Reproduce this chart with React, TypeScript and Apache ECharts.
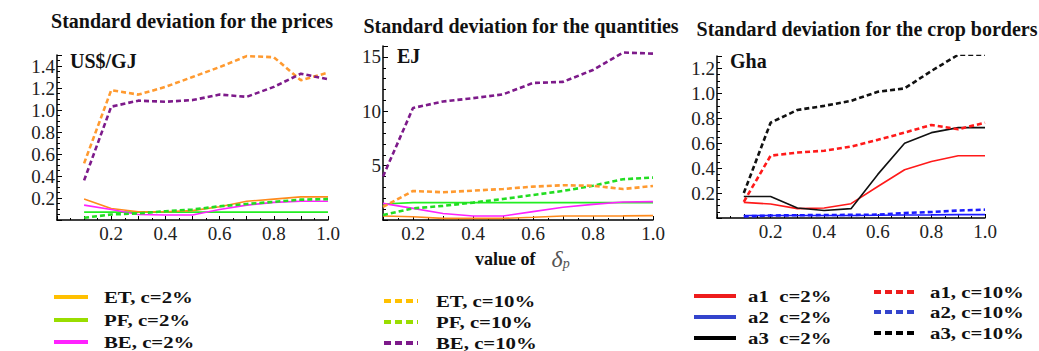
import React, { useEffect, useRef } from "react";
import * as echarts from "echarts";

const X = [0.1, 0.2, 0.3, 0.4, 0.5, 0.6, 0.7, 0.8, 0.9, 1.0];

// Panel 1: prices (US$/GJ)
const P_ET2 = [0.19, 0.105, 0.075, 0.075, 0.085, 0.12, 0.17, 0.19, 0.21, 0.21];
const P_PF2 = [0.072, 0.072, 0.072, 0.072, 0.072, 0.072, 0.072, 0.072, 0.072, 0.072];
const P_BE2 = [0.135, 0.095, 0.05, 0.045, 0.045, 0.095, 0.135, 0.16, 0.17, 0.17];
const P_ET10 = [0.515, 1.18, 1.14, 1.21, 1.3, 1.39, 1.49, 1.48, 1.27, 1.34];
const P_PF10 = [0.02, 0.05, 0.06, 0.08, 0.095, 0.125, 0.145, 0.165, 0.185, 0.19];
const P_BE10 = [0.36, 1.03, 1.085, 1.075, 1.09, 1.14, 1.12, 1.21, 1.33, 1.28];

// Panel 2: quantities (EJ)
const Q_ET2 = [0.37, 0.3, 0.15, 0.15, 0.15, 0.25, 0.37, 0.37, 0.38, 0.4];
const Q_PF2 = [1.47, 1.6, 1.6, 1.6, 1.6, 1.6, 1.6, 1.6, 1.6, 1.6];
const Q_BE2 = [1.53, 1.07, 0.6, 0.37, 0.37, 0.77, 1.17, 1.44, 1.65, 1.69];
const Q_ET10 = [1.2, 2.67, 2.55, 2.7, 2.85, 3.07, 3.2, 3.15, 2.85, 3.13];
const Q_PF10 = [0.46, 1.07, 1.3, 1.6, 1.93, 2.3, 2.67, 3.15, 3.75, 3.9];
const Q_BE10 = [4.0, 10.3, 10.9, 11.2, 11.55, 12.6, 12.7, 13.8, 15.4, 15.3];

// Panel 3: crop borders (Gha)
const C_A1_2 = [0.125, 0.112, 0.075, 0.08, 0.115, 0.253, 0.387, 0.453, 0.5, 0.5];
const C_A2_2 = [0.02, 0.02, 0.02, 0.02, 0.02, 0.022, 0.024, 0.025, 0.027, 0.027];
const C_A3_2 = [0.173, 0.173, 0.08, 0.06, 0.075, 0.35, 0.6, 0.685, 0.725, 0.725];
const C_A1_10 = [0.13, 0.5, 0.525, 0.54, 0.573, 0.627, 0.685, 0.747, 0.712, 0.765];
const C_A2_10 = [0.013, 0.02, 0.022, 0.024, 0.025, 0.027, 0.04, 0.048, 0.06, 0.067];
const C_A3_10 = [0.2, 0.765, 0.867, 0.9, 0.94, 1.013, 1.04, 1.18, 1.31, 1.31];

const TITLES = [
  "Standard deviation for the prices",
  "Standard deviation for the quantities",
  "Standard deviation for the crop borders",
];
const UNITS = ["US$/GJ", "EJ", "Gha"];

const LEGEND_COL1 = ["ET, c=2%", "PF, c=2%", "BE, c=2%"];
const LEGEND_COL2 = ["ET, c=10%", "PF, c=10%", "BE, c=10%"];
const LEGEND_COL3 = ["a1  c=2%", "a2  c=2%", "a3  c=2%"];
const LEGEND_COL4 = ["a1, c=10%", "a2, c=10%", "a3, c=10%"];

const SERIF = "Liberation Serif";
const DASH = [5, 3];

function mk(vals: number[], idx: number, color: string, dashed: boolean, width?: number) {
  return {
    type: "line",
    xAxisIndex: idx,
    yAxisIndex: idx,
    data: X.map((x, i) => [x, vals[i]]),
    showSymbol: false,
    symbol: "none",
    lineStyle: {
      color,
      width: width ?? (dashed ? 2.6 : 1.6),
      type: dashed ? DASH : "solid",
    },
    z: dashed ? 3 : 2,
  };
}

const tickRich = { t: { fontFamily: SERIF, fontSize: 19, color: "#222" } };

function xAxis(idx: number, min: number) {
  return {
    type: "value",
    gridIndex: idx,
    min,
    max: 1.0,
    interval: 0.1,
    axisLine: { show: true, onZero: false, lineStyle: { color: "#000", width: 1.5 } },
    axisTick: { show: true, inside: true, length: 4, lineStyle: { color: "#000", width: 1 } },
    minorTick: { show: true, splitNumber: 2, length: 2, lineStyle: { color: "#000" } },
    splitLine: { show: false },
    axisLabel: {
      fontFamily: SERIF,
      fontSize: 19,
      color: "#222",
      margin: 4,
      rich: tickRich,
      formatter: (v: number) => {
        const r = Math.round(v * 10);
        return r % 2 === 0 && r > 0 ? `{t|${r === 10 ? "1.0" : (r / 10).toFixed(1)}}` : "";
      },
    },
  };
}

function yAxis(idx: number, max: number, interval: number, minorSplit: number, fmt: (v: number) => string) {
  return {
    type: "value",
    gridIndex: idx,
    min: 0,
    max,
    interval,
    axisLine: { show: true, onZero: false, lineStyle: { color: "#000", width: 1.5 } },
    axisTick: { show: true, inside: true, length: 5, lineStyle: { color: "#000", width: 1 } },
    minorTick: { show: true, splitNumber: minorSplit, length: 3, lineStyle: { color: "#000" } },
    splitLine: { show: false },
    axisLabel: {
      fontFamily: SERIF,
      fontSize: 19,
      color: "#222",
      margin: 2,
      rich: tickRich,
      formatter: (v: number) => (v === 0 ? "" : `{t|${fmt(v)}}`),
    },
  };
}

function legendItems(
  labels: string[],
  colors: string[],
  dashed: boolean,
  x1: number,
  x2: number,
  tx: number,
  ys: number[]
) {
  const out: any[] = [];
  labels.forEach((lab, i) => {
    out.push({
      type: "line",
      shape: { x1, y1: ys[i], x2, y2: ys[i] },
      style: { stroke: colors[i], lineWidth: 4, lineDash: dashed ? [7, 4] : null },
    });
    out.push({
      type: "text",
      x: tx,
      y: ys[i],
      scaleX: 1.3,
      style: {
        text: lab,
        fontFamily: SERIF,
        fontWeight: "bold",
        fontSize: 16,
        fill: "#111",
        textVerticalAlign: "middle",
        verticalAlign: "middle",
      },
    });
  });
  return out;
}

export default function App() {
  const ref = useRef<HTMLDivElement>(null);
  useEffect(() => {
    document.body.style.margin = "0";
    if (!ref.current) return;
    const chart = echarts.init(ref.current, undefined, { renderer: "svg" });
    const title = (text: string, x: number, y: number) => ({
      type: "text",
      x,
      y,
      style: {
        text,
        fontFamily: SERIF,
        fontWeight: "bold",
        fontSize: 20,
        fill: "#111",
        textAlign: "center",
        textVerticalAlign: "middle",
        align: "center",
        verticalAlign: "middle",
      },
    });
    const unit = (text: string, x: number, y: number) => ({
      type: "text",
      x,
      y,
      style: {
        text,
        fontFamily: SERIF,
        fontWeight: "bold",
        fontSize: 20,
        fill: "#111",
        textVerticalAlign: "middle",
        verticalAlign: "middle",
      },
    });
    chart.setOption({
      animation: false,
      backgroundColor: "#fff",
      textStyle: { fontFamily: SERIF },
      grid: [
        { left: 57, top: 55, width: 271, height: 165 },
        { left: 383, top: 46, width: 270, height: 174 },
        { left: 717, top: 56, width: 268, height: 162 },
      ],
      xAxis: [xAxis(0, 0), xAxis(1, 0.1), xAxis(2, 0)],
      yAxis: [
        yAxis(0, 1.5, 0.2, 4, (v) => v.toFixed(1)),
        yAxis(1, 16, 5, 5, (v) => String(v)),
        yAxis(2, 1.3, 0.2, 4, (v) => v.toFixed(1)),
      ],
      series: [
        mk(P_PF2, 0, "#22ee22", false),
        mk(P_ET2, 0, "#ff8a1c", false),
        mk(P_BE2, 0, "#ff22ff", false),
        mk(P_PF10, 0, "#22dd22", true),
        mk(P_ET10, 0, "#ff9a30", true),
        mk(P_BE10, 0, "#7d1a8a", true),
        mk(Q_PF2, 1, "#22ee22", false),
        mk(Q_ET2, 1, "#ff8a1c", false),
        mk(Q_BE2, 1, "#ff22ff", false),
        mk(Q_PF10, 1, "#22dd22", true),
        mk(Q_ET10, 1, "#ff9a30", true),
        mk(Q_BE10, 1, "#7d1a8a", true),
        mk(C_A2_2, 2, "#1a1aff", false),
        mk(C_A1_2, 2, "#ff1a1a", false),
        mk(C_A3_2, 2, "#111111", false),
        mk(C_A2_10, 2, "#1a1aff", true),
        mk(C_A1_10, 2, "#ff1a1a", true),
        mk(C_A3_10, 2, "#111111", true),
      ],
      graphic: [
        title(TITLES[0], 192, 21),
        title(TITLES[1], 521, 26),
        title(TITLES[2], 867, 29),
        unit(UNITS[0], 70, 61),
        unit(UNITS[1], 397, 56),
        unit(UNITS[2], 730, 61),
        {
          type: "text",
          x: 475,
          y: 259,
          style: {
            text: "{a|value of}{d|δ}{p|p}",
            rich: {
              a: { fontFamily: SERIF, fontWeight: "bold", fontSize: 18, fill: "#111", padding: [0, 16, 0, 0] },
              d: { fontFamily: SERIF, fontStyle: "italic", fontSize: 24, fill: "#555" },
              p: { fontFamily: SERIF, fontStyle: "italic", fontSize: 14, fill: "#555", padding: [9, 0, 0, 0] },
            },
            verticalAlign: "middle",
            textVerticalAlign: "middle",
          },
        },
        ...legendItems(LEGEND_COL1, ["#ffc000", "#99dd00", "#ff22ff"], false, 54, 88, 104, [297, 320, 342]),
        ...legendItems(LEGEND_COL2, ["#ffc000", "#99dd00", "#7d1a8a"], true, 384, 418, 436, [301, 322, 343]),
        ...legendItems(LEGEND_COL3, ["#ee1c1c", "#3344cc", "#000000"], false, 694, 736, 748, [296, 317, 338]),
        ...legendItems(LEGEND_COL4, ["#ee1c1c", "#3344cc", "#000000"], true, 874, 916, 930, [292, 312, 333]),
      ],
    });
    return () => chart.dispose();
  }, []);
  return <div ref={ref} style={{ width: 1039, height: 351 }} />;
}
